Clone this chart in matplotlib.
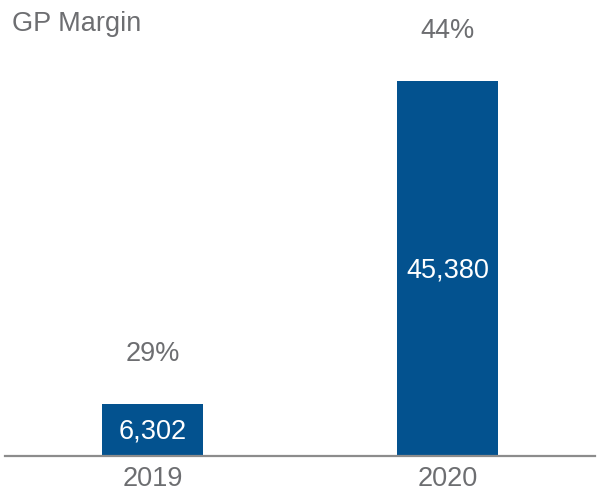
import matplotlib
matplotlib.use("Agg")
import matplotlib.pyplot as plt

years = ["2019", "2020"]
gross_profit = [6302, 45380]
gp_margin = ["29%", "44%"]

bar_color = "#03528f"
text_gray = "#6d6e71"
fs = 19.5

plt.rcParams['font.family'] = ['Liberation Sans', 'DejaVu Sans']

fig = plt.figure(figsize=(6.01, 4.91), dpi=100)
ax = fig.add_axes([5 / 601, 1 - 456 / 491, 590 / 601, 456 / 491])

x = range(len(years))
bars = ax.bar(x, gross_profit, width=0.342, color=bar_color)

ax.set_xlim(-0.5, 1.5)
ax.set_ylim(0, 45380 * 456 / 375)

for b, val, m in zip(bars, gross_profit, gp_margin):
    cx = b.get_x() + b.get_width() / 2
    ax.annotate(f"{val:,}", (cx, val / 2), xytext=(0, -2), textcoords="offset pixels",
                ha="center", va="center", color="white", fontsize=fs)
    ax.annotate(m, (cx, val), xytext=(0, 50), textcoords="offset pixels",
                ha="center", va="center", color=text_gray, fontsize=fs)

for s in ["top", "right", "left"]:
    ax.spines[s].set_visible(False)
ax.spines["bottom"].set_color("#8c8c8c")
ax.spines["bottom"].set_linewidth(1.6)
ax.set_yticks([])
ax.set_xticks(list(x))
ax.set_xticklabels(years, color=text_gray, fontsize=fs)
ax.tick_params(axis="x", length=0, pad=7)

fig.text(12 / 601, 1 - 24 / 491, "GP Margin", ha="left", va="center",
         color=text_gray, fontsize=fs)

fig.savefig("out.png", dpi=100)
